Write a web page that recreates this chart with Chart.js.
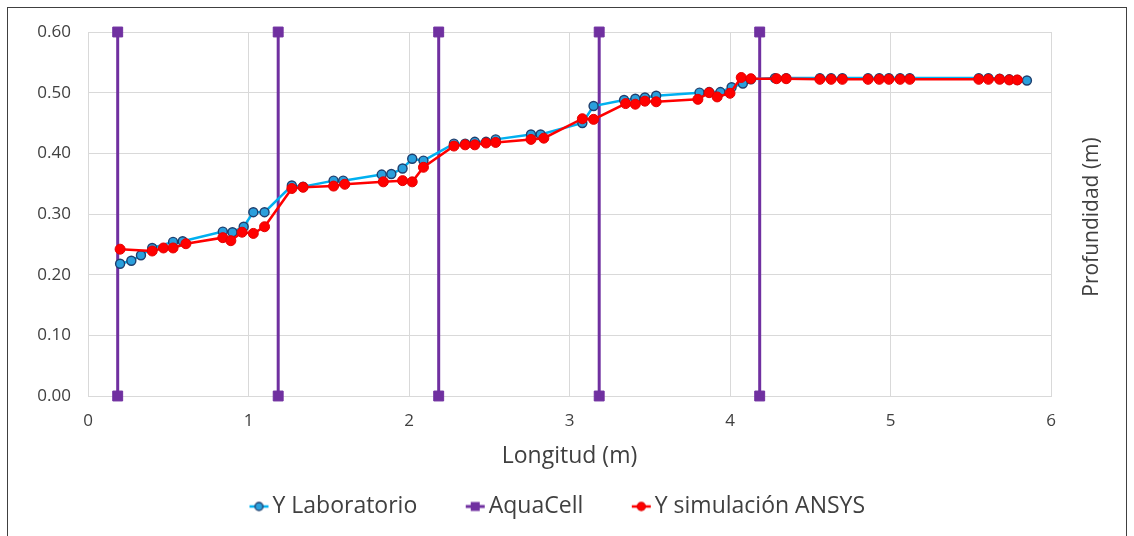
<!DOCTYPE html>
<html>
<head>
<meta charset="utf-8">
<script src="https://cdn.jsdelivr.net/npm/chart.js@4.4.0/dist/chart.umd.min.js"></script>
<style>
  html, body { margin: 0; padding: 0; background: #ffffff; }
  #wrap { width: 1134px; height: 536px; }
</style>
</head>
<body>
<div id="wrap"><canvas id="chart" width="1134" height="536"></canvas></div>
<script>
// Measured water surface along the channel (laboratory)
const labX = [0.20, 0.27, 0.33, 0.40, 0.53, 0.59, 0.84, 0.90, 0.97, 1.03, 1.10, 1.27, 1.34,
  1.53, 1.59, 1.83, 1.89, 1.96, 2.02, 2.09, 2.28, 2.35, 2.41, 2.48, 2.54, 2.76, 2.82,
  3.08, 3.15, 3.34, 3.41, 3.47, 3.54, 3.81, 3.87, 3.94, 4.01, 4.08, 4.13, 4.28, 4.35,
  4.56, 4.63, 4.70, 4.86, 4.93, 4.99, 5.06, 5.12, 5.55, 5.61, 5.68, 5.74, 5.79, 5.85];
const labY = [0.218, 0.223, 0.232, 0.244, 0.254, 0.255, 0.271, 0.270, 0.279, 0.303, 0.303, 0.347, 0.345,
  0.355, 0.355, 0.365, 0.366, 0.375, 0.391, 0.388, 0.416, 0.416, 0.419, 0.419, 0.423, 0.431, 0.431,
  0.450, 0.478, 0.488, 0.490, 0.492, 0.495, 0.500, 0.501, 0.501, 0.509, 0.515, 0.522, 0.524, 0.524,
  0.524, 0.524, 0.524, 0.524, 0.524, 0.524, 0.524, 0.524, 0.524, 0.524, 0.523, 0.522, 0.521, 0.520];

// Water surface from the ANSYS simulation
const simX = [0.20, 0.40, 0.47, 0.53, 0.61, 0.84, 0.89, 0.96, 1.03, 1.10, 1.27, 1.34,
  1.53, 1.60, 1.84, 1.96, 2.02, 2.09, 2.28, 2.35, 2.41, 2.48, 2.54, 2.76, 2.84,
  3.08, 3.15, 3.35, 3.41, 3.47, 3.54, 3.80, 3.87, 3.92, 4.00, 4.07, 4.13, 4.29, 4.35,
  4.56, 4.63, 4.70, 4.86, 4.93, 4.99, 5.06, 5.12, 5.55, 5.61, 5.68, 5.74, 5.79];
const simY = [0.242, 0.239, 0.244, 0.244, 0.251, 0.261, 0.256, 0.270, 0.268, 0.279, 0.342, 0.344,
  0.346, 0.349, 0.353, 0.355, 0.353, 0.377, 0.412, 0.414, 0.414, 0.417, 0.418, 0.423, 0.425,
  0.457, 0.456, 0.482, 0.481, 0.486, 0.485, 0.489, 0.500, 0.493, 0.499, 0.525, 0.523, 0.523, 0.523,
  0.522, 0.522, 0.522, 0.522, 0.522, 0.522, 0.522, 0.522, 0.522, 0.522, 0.522, 0.521, 0.521];

// AquaCell positions (vertical markers from bed to top)
const cellX = [0.185, 1.185, 2.185, 3.185, 4.185];
const cellBottom = 0.0;
const cellTop = 0.6;

// Axis ranges and labels
const xMin = 0, xMax = 6, xStep = 1;
const yMin = 0, yMax = 0.6, yStep = 0.1;
const seriesNames = ['Y Laboratorio', 'AquaCell', 'Y simulación ANSYS'];
const xTitle = 'Longitud (m)';
const yTitle = 'Profundidad (m)';

const toPoints = (xs, ys) => xs.map((x, i) => ({ x: x, y: ys[i] }));

// each cell is a bottom-to-top segment; a null point breaks the line between them
const cellPoints = [];
cellX.forEach((x, i) => {
  if (i > 0) cellPoints.push({ x: (cellX[i - 1] + x) / 2, y: null });
  cellPoints.push({ x: x, y: cellBottom });
  cellPoints.push({ x: x, y: cellTop });
});

const COL = {
  labLine: '#00b0f0', labFill: '#2a9fdc', labEdge: '#1f3f6e',
  cell: '#7030a0',
  sim: '#ff0000', simEdge: '#e60000',
  grid: '#d9d9d9', tick: '#404040', text: '#404040'
};
const FONT = 'Open Sans';

// legend entry: box is LEG_BOX wide, glyph image a bit wider so the
// line-plus-marker sits right against the label text
const LEG_BOX = 50;
function legendGlyph(kind) {
  const w = LEG_BOX + 17, h = 16;
  const c = document.createElement('canvas');
  c.width = w; c.height = h;
  const g = c.getContext('2d');
  const x1 = w - 1, x0 = x1 - 19, cy = h / 2, cx = (x0 + x1) / 2;
  g.lineWidth = kind === 'cell' ? 3 : 2.5;
  g.strokeStyle = kind === 'lab' ? COL.labLine : kind === 'cell' ? COL.cell : COL.sim;
  g.beginPath(); g.moveTo(x0, cy); g.lineTo(x1, cy); g.stroke();
  if (kind === 'cell') {
    g.fillStyle = COL.cell;
    g.fillRect(cx - 4.5, cy - 4.5, 9, 9);
  } else {
    g.beginPath(); g.arc(cx, cy, 4, 0, Math.PI * 2);
    g.fillStyle = kind === 'lab' ? COL.labFill : COL.sim;
    g.fill();
    g.lineWidth = 1.3;
    g.strokeStyle = kind === 'lab' ? COL.labEdge : COL.simEdge;
    g.stroke();
  }
  return c;
}
const glyphs = [legendGlyph('lab'), legendGlyph('cell'), legendGlyph('sim')];

// outer frame and the right-hand vertical title
const decorations = {
  id: 'decorations',
  beforeDraw(chart) {
    const ctx = chart.ctx;
    ctx.save();
    ctx.fillStyle = '#ffffff';
    ctx.fillRect(0, 0, chart.width, chart.height);
    ctx.strokeStyle = '#404040';
    ctx.lineWidth = 1;
    ctx.strokeRect(7.5, 7.5, 1119, 600);
    ctx.restore();
  },
  afterDraw(chart) {
    const ctx = chart.ctx;
    ctx.save();
    ctx.translate(1092, (chart.chartArea.top + chart.chartArea.bottom) / 2 + 3);
    ctx.rotate(-Math.PI / 2);
    ctx.font = '21px "' + FONT + '"';
    ctx.fillStyle = COL.text;
    ctx.textAlign = 'center';
    ctx.textBaseline = 'middle';
    ctx.fillText(yTitle, 0, 0);
    ctx.restore();
  }
};

new Chart(document.getElementById('chart'), {
  type: 'line',
  data: {
    datasets: [
      {
        label: seriesNames[0],
        data: toPoints(labX, labY),
        order: 1,
        borderColor: COL.labLine,
        borderWidth: 2.5,
        pointRadius: 4.5,
        pointBackgroundColor: COL.labFill,
        pointBorderColor: COL.labEdge,
        pointBorderWidth: 1.4,
        tension: 0,
        clip: false
      },
      {
        label: seriesNames[1],
        data: cellPoints,
        order: 2,
        spanGaps: false,
        borderColor: COL.cell,
        borderWidth: 3,
        pointStyle: 'rect',
        pointRadius: 7,
        pointBackgroundColor: COL.cell,
        pointBorderColor: COL.cell,
        pointBorderWidth: 1,
        tension: 0,
        clip: false
      },
      {
        label: seriesNames[2],
        data: toPoints(simX, simY),
        order: 0,
        borderColor: COL.sim,
        borderWidth: 2.5,
        pointRadius: 5,
        pointBackgroundColor: COL.sim,
        pointBorderColor: COL.simEdge,
        pointBorderWidth: 1,
        tension: 0,
        clip: false
      }
    ]
  },
  options: {
    responsive: false,
    devicePixelRatio: 1,
    animation: false,
    events: [],
    layout: { padding: { top: 32, right: 58, bottom: 8, left: 0 } },
    scales: {
      x: {
        type: 'linear',
        min: xMin, max: xMax,
        afterFit: s => { s.height = 89; },
        ticks: {
          stepSize: xStep,
          padding: 15,
          color: COL.tick,
          font: { family: FONT, size: 17 }
        },
        grid: { color: COL.grid, lineWidth: 1, drawTicks: false },
        border: { color: COL.grid, width: 1 },
        title: {
          display: true, text: xTitle, color: COL.text,
          font: { family: FONT, size: 23 },
          padding: { top: 0, bottom: 15 }
        }
      },
      y: {
        type: 'linear',
        min: yMin, max: yMax,
        afterFit: s => { s.width = 88; },
        ticks: {
          stepSize: yStep,
          padding: 17,
          color: COL.tick,
          font: { family: FONT, size: 17 },
          callback: v => Number(v).toFixed(2)
        },
        grid: { color: COL.grid, lineWidth: 1, drawTicks: false },
        border: { color: COL.grid, width: 1 }
      },
      // spacer on the right, room for the vertical title
      side: {
        type: 'linear',
        position: 'right',
        min: 0, max: 1,
        afterFit: s => { s.width = 25; },
        ticks: { display: false },
        grid: { display: false, drawTicks: false },
        border: { display: false }
      }
    },
    plugins: {
      tooltip: { enabled: false },
      legend: {
        position: 'bottom',
        labels: {
          usePointStyle: true,
          pointStyleWidth: LEG_BOX,
          padding: 10,
          color: COL.text,
          font: { family: FONT, size: 23 },
          generateLabels: chart => chart.data.datasets.map((ds, i) => ({
            text: ds.label,
            pointStyle: glyphs[i],
            fontColor: COL.text,
            strokeStyle: 'rgba(0,0,0,0)',
            fillStyle: 'rgba(0,0,0,0)',
            lineWidth: 0,
            hidden: false,
            datasetIndex: i
          }))
        }
      }
    }
  },
  plugins: [decorations]
});
</script>
</body>
</html>
